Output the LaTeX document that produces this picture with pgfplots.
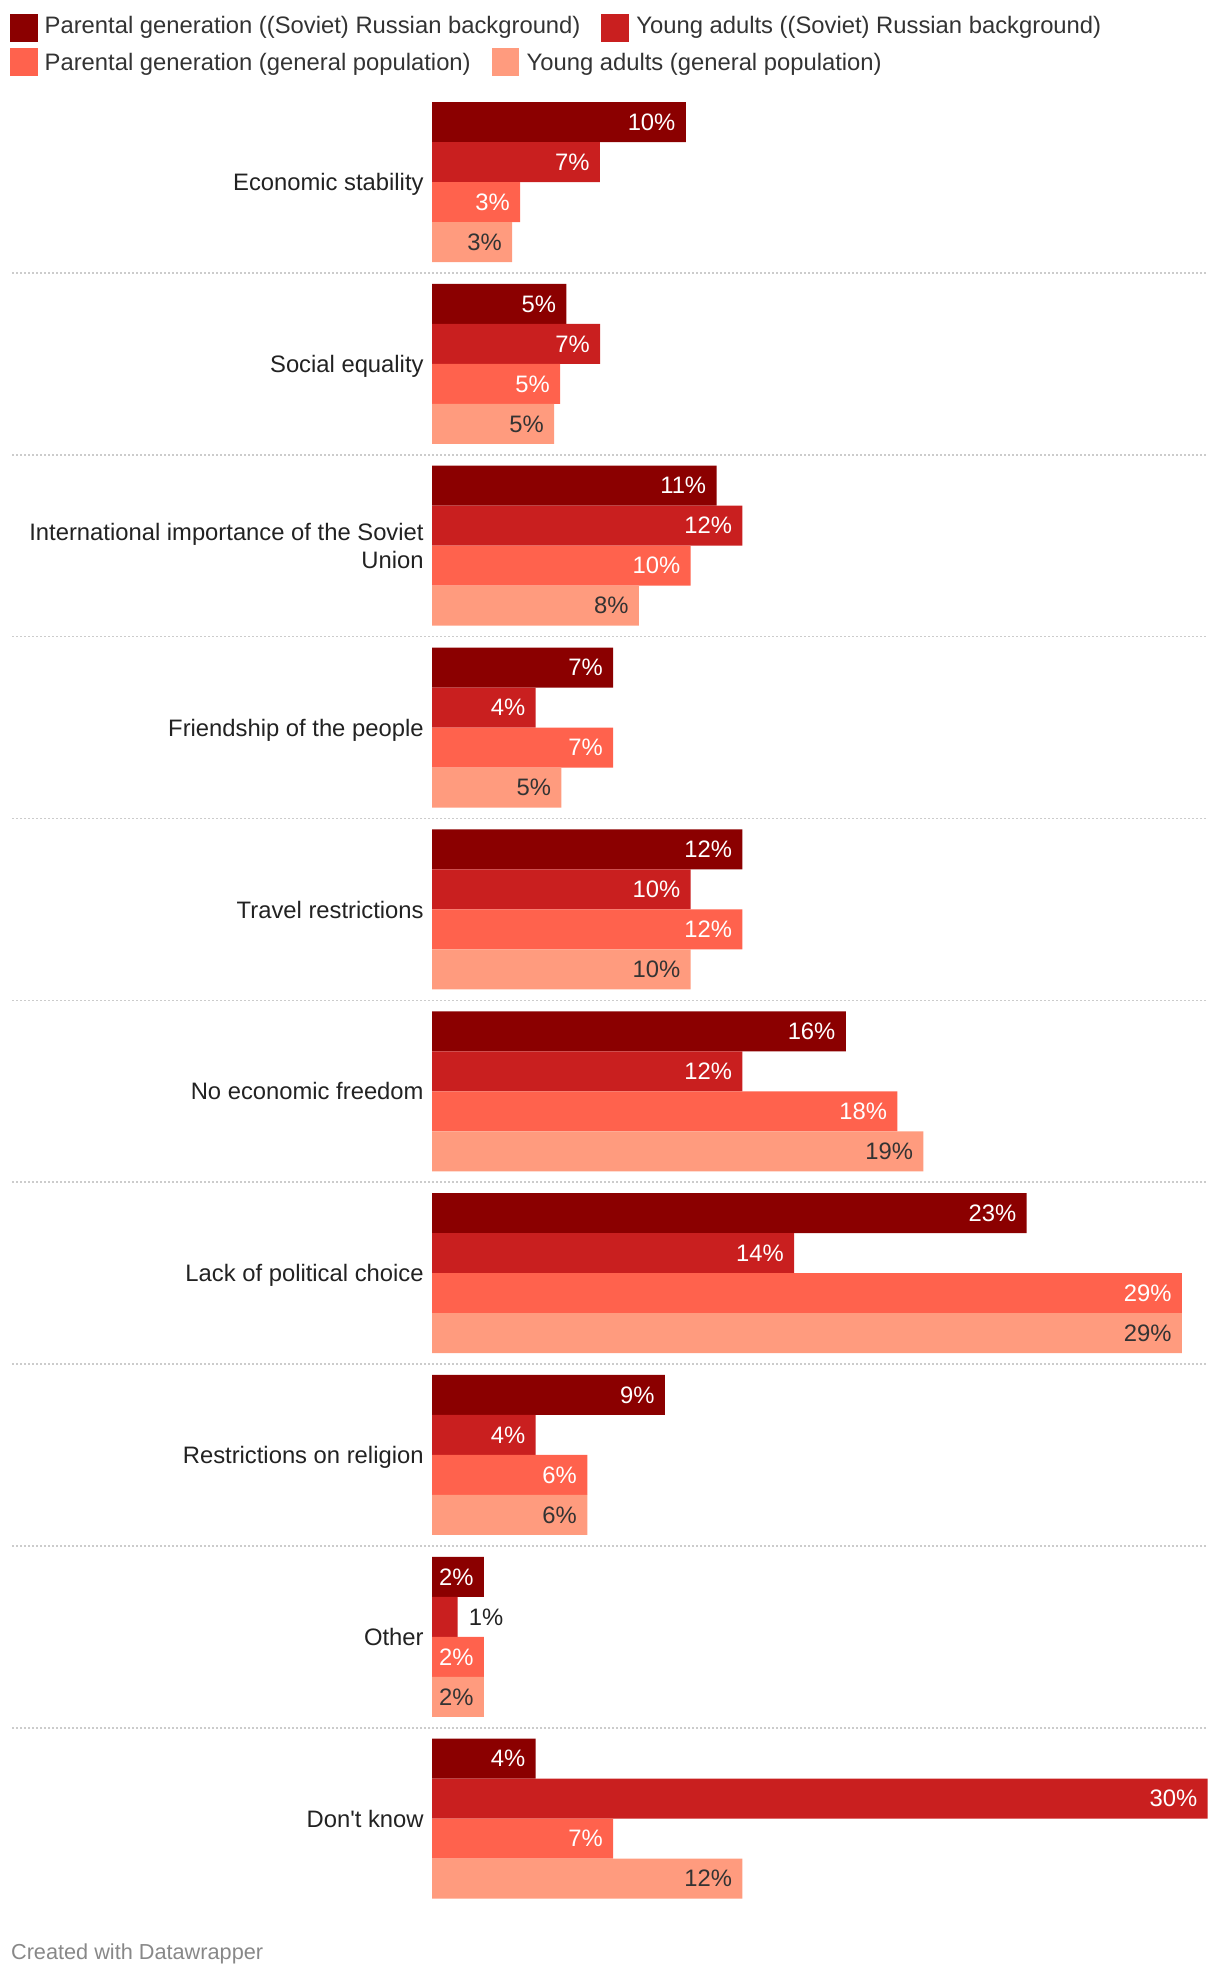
\documentclass[border=0pt]{standalone}
\usepackage{pgfplots}
\pgfplotsset{compat=1.18}
\usepackage{pgfplotstable}
\usepackage{fontspec}
\setmainfont{Liberation Sans}
\definecolor{cA}{HTML}{8B0000}
\definecolor{cB}{HTML}{C91F1F}
\definecolor{cC}{HTML}{FF624D}
\definecolor{cD}{HTML}{FF9B7E}
\definecolor{txt}{HTML}{222222}
\definecolor{txtB}{HTML}{333333}
\definecolor{sepc}{HTML}{CCCCCC}
\definecolor{foot}{HTML}{888888}
\newcommand{\mf}{\fontsize{11.9pt}{14pt}\selectfont}

% cat: 0 = Economic stability ... 9 = Don't know
\pgfplotstableread{
cat val lbl
0 9.81 10\%
1 5.19 5\%
2 11 11\%
3 7 7\%
4 12 12\%
5 16 16\%
6 23 23\%
7 9 9\%
8 2 2\%
9 4 4\%
}\tA
\pgfplotstableread{
cat val lbl
0 6.49 7\%
1 6.50 7\%
2 12 12\%
3 4 4\%
4 10 10\%
5 12 12\%
6 14 14\%
7 4 4\%
8 0.98 {}
9 30 30\%
}\tB
\pgfplotstableread{
cat val lbl
8 0.98 1\%
}\tBout
\pgfplotstableread{
cat val lbl
0 3.40 3\%
1 4.95 5\%
2 10 10\%
3 7 7\%
4 12 12\%
5 18 18\%
6 29 29\%
7 6 6\%
8 2 2\%
9 7 7\%
}\tC
\pgfplotstableread{
cat val lbl
0 3.09 3\%
1 4.72 5\%
2 8 8\%
3 5 5\%
4 10 10\%
5 19 19\%
6 29 29\%
7 6 6\%
8 2 2\%
9 12 12\%
}\tD

\begin{document}
\begin{tikzpicture}
\useasboundingbox (0,0) rectangle (610pt,-989pt);
\begin{axis}[
  at={(216.1pt,0pt)}, anchor=north west,
  x=12.925pt, y=90.925pt,
  xmin=0, xmax=30, ymin=-9.6, ymax=1.0008,
  enlargelimits=false,
  clip=false,
  axis line style={draw=none},
  major tick style={draw=none}, major tick length=0pt,
  xtick=\empty,
  ytick={-9,-8,...,0},
  yticklabels={{Don\textquotesingle t know},Other,Restrictions on religion,Lack of political choice,No economic freedom,Travel restrictions,Friendship of the people,{International importance of the Soviet\\Union},Social equality,Economic stability},
  yticklabel style={anchor=east, inner sep=0pt, xshift=-4.1pt, text depth=0pt, align=right, font=\mf, text=txt},
  xbar, bar width=20pt,
  point meta=explicit symbolic,
  nodes near coords={\pgfplotspointmeta},
  nodes near coords style={anchor=east, inner sep=0pt, xshift=-5pt, font=\mf, text=white},
]
\pgfplotsinvokeforeach{0.5,1.5,2.5,3.5,4.5,5.5,6.5,7.5,8.5}{
  \draw[sepc, line width=0.8pt, dash pattern=on 1pt off 1pt] (axis cs:-16.25,-#1) -- (axis cs:30,-#1);
}
\addplot[fill=cA, draw=none, bar shift=30pt] table[x=val, y expr=-\thisrow{cat}, meta=lbl] {\tA};
\addplot[fill=cB, draw=none, bar shift=10pt] table[x=val, y expr=-\thisrow{cat}, meta=lbl] {\tB};
\addplot[fill=none, draw=none, bar shift=10pt, forget plot, nodes near coords style={anchor=west, xshift=10.5pt, text=txt}] table[x=val, y expr=-\thisrow{cat}, meta=lbl] {\tBout};
\addplot[fill=cC, draw=none, bar shift=-10pt] table[x=val, y expr=-\thisrow{cat}, meta=lbl] {\tC};
\addplot[fill=cD, draw=none, bar shift=-30pt, nodes near coords style={text=txtB}] table[x=val, y expr=-\thisrow{cat}, meta=lbl] {\tD};
\end{axis}
% legend
\node[fill=cA, minimum size=13.85pt, inner sep=0pt, outer sep=0pt, anchor=north west] (m1) at (5pt,-7pt) {};
\node[anchor=base west, inner sep=0pt, font=\mf, text=txtB] (l1) at (22.15pt,-16.65pt) {Parental generation ((Soviet) Russian background)};
\path (l1.east |- m1.west) ++(10.2pt,0) node[fill=cB, minimum size=13.85pt, inner sep=0pt, outer sep=0pt, anchor=west] (m2) {};
\path (m2.east |- l1.base) ++(3.5pt,0) node[anchor=base west, inner sep=0pt, font=\mf, text=txtB] {Young adults ((Soviet) Russian background)};
\node[fill=cC, minimum size=13.85pt, inner sep=0pt, outer sep=0pt, anchor=north west] (m3) at (5pt,-24.15pt) {};
\node[anchor=base west, inner sep=0pt, font=\mf, text=txtB] (l3) at (22.15pt,-35pt) {Parental generation (general population)};
\path (l3.east |- m3.west) ++(10.2pt,0) node[fill=cD, minimum size=13.85pt, inner sep=0pt, outer sep=0pt, anchor=west] (m4) {};
\path (m4.east |- l3.base) ++(3.5pt,0) node[anchor=base west, inner sep=0pt, font=\mf, text=txtB] {Young adults (general population)};
% footer
\node[anchor=base west, inner sep=0pt, font=\fontsize{10.85pt}{13pt}\selectfont, text=foot] at (5.35pt,-979.65pt) {Created with Datawrapper};
\end{tikzpicture}
\end{document}
